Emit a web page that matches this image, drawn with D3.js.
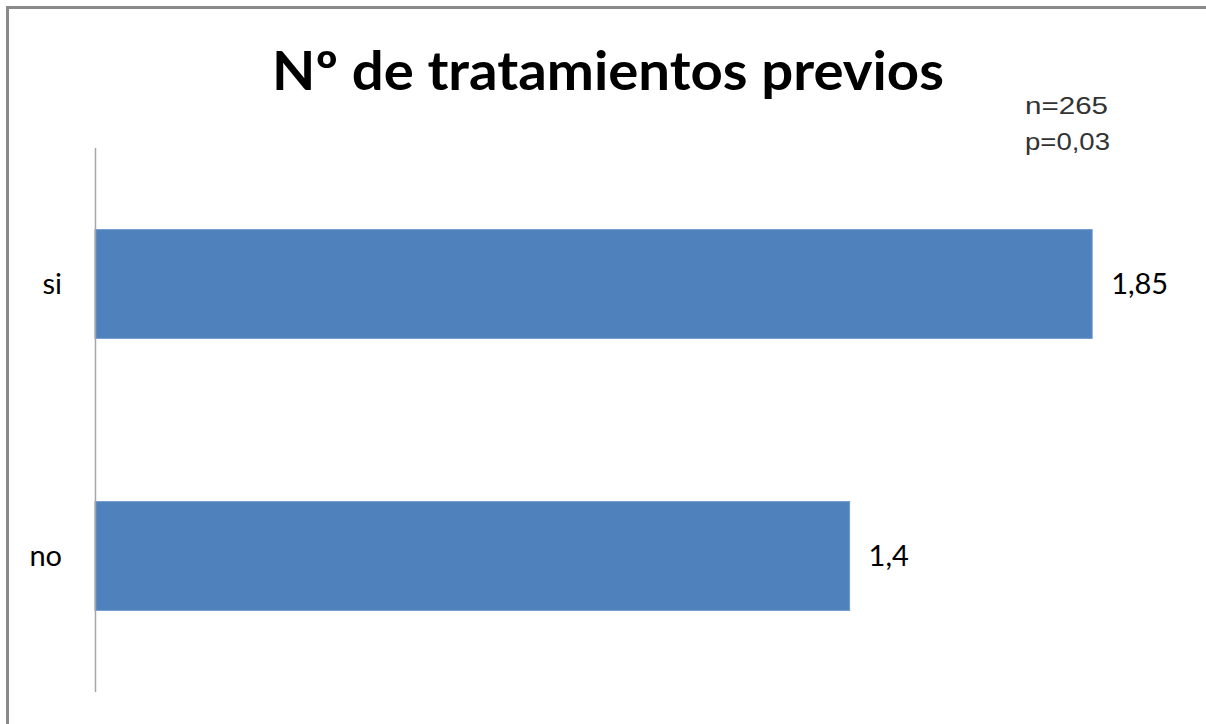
<!DOCTYPE html>
<html>
<head>
<meta charset="utf-8">
<script src="https://cdn.jsdelivr.net/npm/d3@7"></script>
<style>
  html, body { margin: 0; padding: 0; background: #fff; }
  svg { display: block; }
</style>
</head>
<body>
<svg id="chart" width="1206" height="724"></svg>
<script>
// Chart data
const categories = ["si", "no"];
const values = [1.85, 1.4];
const valueLabels = ["1,85", "1,4"];
const titleText = "Nº de tratamientos previos";
const noteLines = ["n=265", "p=0,03"];

const svg = d3.select("#chart");
const W = 1206, H = 724;

// Frame (top and left edges visible)
svg.append("path")
  .attr("d", `M7.5,${H} L7.5,7.5 L${W},7.5`)
  .attr("fill", "none")
  .attr("stroke", "#8a8a8a")
  .attr("stroke-width", 3);

const plot = { left: 95, top: 148, bottom: 692 };

const x = d3.scaleLinear().domain([0, 2]).range([plot.left, plot.left + 1078]);
const y = d3.scaleBand()
  .domain(categories)
  .range([plot.top, plot.bottom])
  .paddingInner(0.6)
  .paddingOuter(0.3);

const rows = categories.map((c, i) => ({ cat: c, value: values[i], label: valueLabels[i] }));

// Bars
svg.append("g").selectAll("rect")
  .data(rows)
  .join("rect")
  .attr("x", x(0))
  .attr("y", d => y(d.cat))
  .attr("width", d => x(d.value) - x(0))
  .attr("height", y.bandwidth())
  .attr("fill", "#4f81bd")
  .attr("stroke", "#6f98cc")
  .attr("stroke-width", 1);

// Category axis
const yAxis = svg.append("g")
  .attr("transform", `translate(${plot.left},0)`)
  .call(d3.axisLeft(y).tickSize(0).tickPadding(33));
yAxis.select(".domain")
  .attr("d", `M0.5,${plot.top}V${plot.bottom}`)
  .attr("stroke", "#a6a6a6")
  .attr("stroke-width", 1.5);
yAxis.selectAll("text")
  .attr("font-family", "Lato, 'Open Sans', sans-serif")
  .attr("font-size", 29)
  .attr("fill", "#000")
  .attr("dy", "0.35em");

// Value labels
svg.append("g").selectAll("text")
  .data(rows)
  .join("text")
  .attr("x", d => x(d.value) + 19)
  .attr("y", d => y(d.cat) + y.bandwidth() / 2)
  .attr("dy", "0.35em")
  .attr("font-family", "Lato, 'Open Sans', sans-serif")
  .attr("font-size", 29)
  .attr("fill", "#000")
  .text(d => d.label);

// Title
svg.append("text")
  .attr("x", 272)
  .attr("y", 90)
  .attr("font-family", "Lato, 'Open Sans', sans-serif")
  .attr("font-weight", "bold")
  .attr("font-size", 53)
  .attr("textLength", 672)
  .attr("lengthAdjust", "spacingAndGlyphs")
  .attr("fill", "#000")
  .text(titleText);

// Sample size and significance note
svg.append("g").selectAll("text")
  .data(noteLines)
  .join("text")
  .attr("x", 1025)
  .attr("y", (d, i) => 114 + i * 36)
  .attr("font-family", "'Liberation Sans', Arial, sans-serif")
  .attr("font-size", 24)
  .attr("textLength", (d, i) => i === 0 ? 83 : 85)
  .attr("lengthAdjust", "spacingAndGlyphs")
  .attr("fill", "#333")
  .text(d => d);
</script>
</body>
</html>
